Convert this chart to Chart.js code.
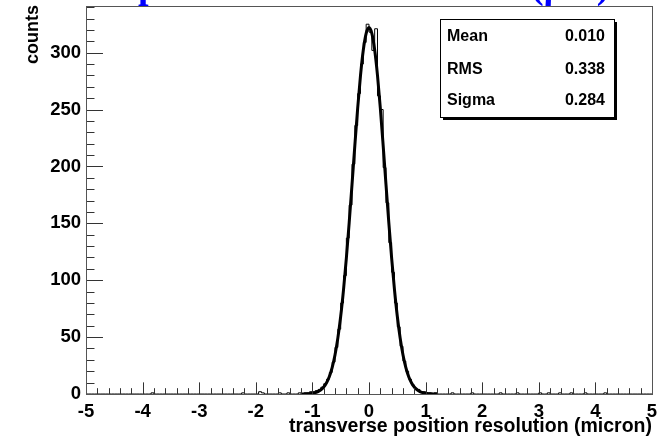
<!DOCTYPE html>
<html>
<head>
<meta charset="utf-8">
<script src="https://cdn.jsdelivr.net/npm/chart.js@4.4.1/dist/chart.umd.min.js"></script>
<style>
  html, body { margin: 0; padding: 0; background: #fff; }
  #wrap { width: 669px; height: 437px; }
</style>
</head>
<body>
<div id="wrap"><canvas id="grafico" width="669" height="437"></canvas></div>
<script>
// ========== DADOS ==========
const binWidth = 0.05;
const xMin = -5, xMax = 5;
const yMax = 341;

// histogram around the peak: first bin low edge, then counts per 0.05 bin
const peakStart = -1.30;
const peakCounts = [0, 1, 0, 1, 1, 2, 2, 3, 4, 6, 9, 13, 19, 28, 41, 57, 80, 104, 137, 166,
                    202, 236, 264, 290, 309, 325, 318, 302, 321, 262, 250, 199, 168, 133, 107, 80,
                    59, 42, 29, 20, 13, 8, 5, 4, 2, 2, 1, 1, 0, 1, 0, 0];

// isolated entries in the tails (bin low edge, counts)
const tailBins = [-3.85, -2.25, -1.95, -1.90, -1.60, -1.45, 1.45, 1.80, 2.30, 2.60, 3.00, 3.15, 3.35, 3.55, 3.80, 4.15];
const tailCounts = [1, 1, 2, 1, 1, 1, 1, 1, 1, 1, 1, 1, 1, 1, 1, 1];

// gaussian fit curve, read every 0.05 from -1.2 to 1.2
const fitStart = -1.2;
const fitValues = [0.04, 0.08, 0.16, 0.33, 0.65, 1.2, 2.1, 3.7, 6.1, 9.9, 15.4, 23.4, 34.5, 49.3,
                   68.3, 91.8, 119.4, 150.7, 184.3, 218.6, 251.3, 280.1, 302.6, 317.0, 322.0,
                   317.0, 302.6, 280.1, 251.3, 218.6, 184.3, 150.7, 119.4, 91.8, 68.3, 49.3, 34.5,
                   23.4, 15.4, 9.9, 6.1, 3.7, 2.1, 1.2, 0.65, 0.33, 0.16, 0.08, 0.04];

const xLabels = [-5, -4, -3, -2, -1, 0, 1, 2, 3, 4, 5];
const yLabels = [0, 50, 100, 150, 200, 250, 300];

const statNames = ['Mean', 'RMS', 'Sigma'];
const statValues = ['0.010', '0.338', '0.284'];

// ========== MONTAR PONTOS ==========
function chave(x) { return Math.round(x * 100); }

function montarHistograma() {
    const mapa = {};
    peakCounts.forEach((c, i) => { mapa[chave(peakStart + i * binWidth)] = c; });
    tailBins.forEach((b, i) => { mapa[chave(b)] = tailCounts[i]; });
    const pts = [];
    const nBins = Math.round((xMax - xMin) / binWidth);
    for (let i = 0; i < nBins; i++) {
        const x = xMin + i * binWidth;
        pts.push({ x: x, y: mapa[chave(x)] || 0 });
    }
    pts.push({ x: xMax, y: 0 });
    return pts;
}

const pontosFit = fitValues.map((v, i) => ({ x: fitStart + i * 0.05, y: v }));

// ========== PLUGIN ESTILO ROOT ==========
const fonte = "'Liberation Sans', Arial, sans-serif";

const estiloRoot = {
    id: 'estiloRoot',
    afterDraw(chart) {
        const ctx = chart.ctx;
        const a = chart.chartArea;
        const sx = chart.scales.x, sy = chart.scales.y;
        ctx.save();

        // ticks inside the frame
        ctx.strokeStyle = '#333';
        ctx.lineWidth = 1;
        const hFrame = a.bottom - a.top, wFrame = a.right - a.left;
        const xMaior = 0.03 * hFrame, yMaior = 0.03 * wFrame;
        ctx.beginPath();
        for (let k = 0; k <= 50; k++) {
            const v = xMin + k * 0.2;
            const px = Math.round(sx.getPixelForValue(v)) + 0.5;
            const len = (k % 5 === 0) ? xMaior : xMaior / 2;
            ctx.moveTo(px, a.bottom);
            ctx.lineTo(px, a.bottom - len);
        }
        for (let v = 0; v <= yMax; v += 10) {
            const py = Math.round(sy.getPixelForValue(v)) + 0.5;
            const len = (v % 50 === 0) ? yMaior : yMaior / 2;
            ctx.moveTo(a.left, py);
            ctx.lineTo(a.left + len, py);
        }
        ctx.stroke();

        // frame
        ctx.strokeStyle = '#555';
        ctx.strokeRect(Math.round(a.left) + 0.5, Math.round(a.top) + 0.5,
                       Math.round(wFrame), Math.round(hFrame));

        // y title at the top end of the axis
        ctx.fillStyle = '#000';
        ctx.font = 'bold 18px ' + fonte;
        ctx.save();
        ctx.translate(38, 5);
        ctx.rotate(-Math.PI / 2);
        ctx.textAlign = 'right';
        ctx.fillText('counts', 0, 0);
        ctx.restore();

        // stats box
        const bx = 440, by = 19, bw = 174, bh = 98;
        ctx.fillStyle = '#000';
        ctx.fillRect(bx + 3, by + 3, bw, bh);
        ctx.fillStyle = '#fff';
        ctx.fillRect(bx, by, bw, bh);
        ctx.strokeStyle = '#000';
        ctx.strokeRect(bx + 0.5, by + 0.5, bw, bh);
        ctx.fillStyle = '#000';
        ctx.font = 'bold 16px ' + fonte;
        const linhas = [41, 74, 105];
        statNames.forEach((nome, i) => {
            ctx.textAlign = 'left';
            ctx.fillText(nome, 447, linhas[i]);
            ctx.textAlign = 'right';
            ctx.fillText(statValues[i], 605, linhas[i]);
        });

        // title clipped by the top of the picture
        ctx.fillStyle = '#0000ff';
        ctx.font = "bold 38px 'Liberation Serif', serif";
        ctx.textAlign = 'left';
        ctx.fillText('p', 138, -2);
        ctx.fillText('(\u03bcm)', 531, -2);

        ctx.restore();
    }
};

// ========== GRÁFICO ==========
new Chart(document.getElementById('grafico').getContext('2d'), {
    type: 'line',
    data: {
        datasets: [
            {
                label: 'hist',
                data: montarHistograma(),
                stepped: true,
                borderColor: '#000',
                borderWidth: 1,
                pointRadius: 0,
                fill: false
            },
            {
                label: 'fit',
                data: pontosFit,
                borderColor: '#000',
                borderWidth: 3,
                pointRadius: 0,
                cubicInterpolationMode: 'monotone',
                fill: false
            }
        ]
    },
    options: {
        responsive: false,
        animation: false,
        layout: { padding: { left: 0, top: 6, right: 17, bottom: 0 } },
        plugins: {
            legend: { display: false },
            tooltip: { enabled: false }
        },
        scales: {
            x: {
                type: 'linear',
                min: xMin,
                max: xMax,
                grid: { display: false, drawTicks: false },
                border: { display: false },
                afterFit(scale) {
                    scale.height = 43;
                    scale.paddingLeft = 0;
                    scale.paddingRight = 0;
                },
                afterBuildTicks(scale) { scale.ticks = xLabels.map(v => ({ value: v })); },
                ticks: {
                    color: '#000',
                    padding: 9,
                    maxRotation: 0,
                    autoSkip: false,
                    font: { family: fonte, weight: 'bold', size: 18.5, lineHeight: 1 }
                },
                title: {
                    display: true,
                    text: 'transverse position resolution (micron)',
                    align: 'end',
                    color: '#000',
                    padding: { top: 0, bottom: 1 },
                    font: { family: fonte, weight: 'bold', size: 19.5, lineHeight: 1 }
                }
            },
            y: {
                min: 0,
                max: yMax,
                grid: { display: false, drawTicks: false },
                border: { display: false },
                afterFit(scale) {
                    scale.width = 86;
                    scale.paddingTop = 0;
                    scale.paddingBottom = 0;
                },
                afterBuildTicks(scale) { scale.ticks = yLabels.map(v => ({ value: v })); },
                ticks: {
                    color: '#000',
                    padding: 5,
                    autoSkip: false,
                    font: { family: fonte, weight: 'bold', size: 18.5 }
                },
                title: { display: false }
            }
        }
    },
    plugins: [estiloRoot]
});
</script>
</body>
</html>
